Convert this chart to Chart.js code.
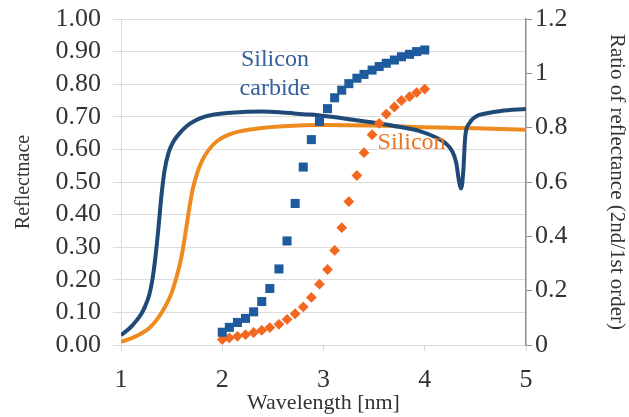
<!DOCTYPE html>
<html>
<head>
<meta charset="utf-8">
<script src="https://cdn.jsdelivr.net/npm/chart.js@4.4.0/dist/chart.umd.min.js"></script>
<style>
  html, body { margin: 0; padding: 0; background: #fff; }
  #wrap { width: 629px; height: 417px; }
</style>
</head>
<body>
<div id="wrap"><canvas id="chart"></canvas></div>
<script>
// Reflectance curves (left axis)
const sicLineX = [1.00, 1.05, 1.10, 1.15, 1.20, 1.24, 1.28, 1.31, 1.34, 1.37, 1.40, 1.43, 1.47, 1.52, 1.58, 1.65, 1.73, 1.82, 1.92, 2.05, 2.20, 2.40, 2.60, 2.80, 2.95, 3.20, 3.45, 3.70, 3.95, 4.10, 4.20, 4.27, 4.31, 4.34, 4.36, 4.38, 4.40, 4.44, 4.50, 4.60, 4.75, 5.00];
const sicLineY = [0.03, 0.042, 0.056, 0.074, 0.095, 0.12, 0.155, 0.20, 0.27, 0.36, 0.46, 0.535, 0.59, 0.625, 0.65, 0.672, 0.688, 0.70, 0.707, 0.712, 0.715, 0.716, 0.713, 0.708, 0.705, 0.695, 0.684, 0.672, 0.656, 0.638, 0.62, 0.595, 0.56, 0.50, 0.48, 0.53, 0.64, 0.68, 0.70, 0.71, 0.718, 0.724];

const siLineX = [1.00, 1.10, 1.20, 1.28, 1.36, 1.44, 1.50, 1.55, 1.59, 1.62, 1.65, 1.68, 1.71, 1.75, 1.80, 1.87, 1.96, 2.08, 2.20, 2.37, 2.60, 3.00, 3.50, 4.00, 4.50, 5.00];
const siLineY = [0.01, 0.02, 0.035, 0.052, 0.08, 0.12, 0.16, 0.21, 0.26, 0.31, 0.37, 0.43, 0.48, 0.525, 0.565, 0.60, 0.628, 0.647, 0.657, 0.665, 0.671, 0.675, 0.673, 0.668, 0.665, 0.66];

// Ratio of reflectance, 2nd/1st order (right axis)
const ratioX = [2.00, 2.07, 2.15, 2.23, 2.31, 2.39, 2.47, 2.56, 2.64, 2.72, 2.80, 2.88, 2.96, 3.04, 3.11, 3.18, 3.25, 3.33, 3.40, 3.48, 3.55, 3.62, 3.70, 3.77, 3.85, 3.92, 4.00];
const sicRatio = [0.047, 0.065, 0.083, 0.098, 0.122, 0.16, 0.208, 0.28, 0.383, 0.521, 0.655, 0.756, 0.823, 0.870, 0.910, 0.938, 0.962, 0.982, 0.996, 1.012, 1.025, 1.037, 1.049, 1.061, 1.070, 1.080, 1.086];
const siRatio = [0.020, 0.026, 0.032, 0.038, 0.046, 0.054, 0.064, 0.076, 0.094, 0.115, 0.140, 0.175, 0.224, 0.278, 0.348, 0.432, 0.528, 0.624, 0.708, 0.774, 0.816, 0.850, 0.876, 0.900, 0.914, 0.929, 0.942];

const rightTickLabels = ["0", "0.2", "0.4", "0.6", "0.8", "1", "1.2"];

const serif = "'Liberation Serif', 'Times New Roman', Times, serif";

function toPoints(xs, ys) {
  return xs.map((x, i) => ({ x: x, y: ys[i] }));
}

// y axes: fixed width, no extra padding from half-height labels
function fitY(width) {
  return (scale) => {
    scale.width = width;
    scale.paddingTop = 0;
    scale.paddingBottom = 0;
  };
}

// Text labels placed in data coordinates
const labelPlugin = {
  id: "seriesLabels",
  afterDatasetsDraw(chart) {
    const { ctx, scales } = chart;
    const x = scales.x, y = scales.yL;
    ctx.save();
    ctx.font = "24px " + serif;
    ctx.textAlign = "center";
    ctx.textBaseline = "middle";
    ctx.fillStyle = "#34609c";
    ctx.fillText("Silicon", x.getPixelForValue(2.52), y.getPixelForValue(0.874));
    ctx.fillText("carbide", x.getPixelForValue(2.52), y.getPixelForValue(0.786));
    ctx.fillStyle = "#ea7424";
    ctx.fillText("Silicon", x.getPixelForValue(3.87), y.getPixelForValue(0.62));
    ctx.restore();
  },
};

const ctx = document.getElementById("chart").getContext("2d");
new Chart(ctx, {
  type: "scatter",
  data: {
    datasets: [
      {
        label: "SiC ratio",
        data: toPoints(ratioX, sicRatio),
        yAxisID: "yR",
        pointStyle: "rect",
        pointRadius: 6.4,
        backgroundColor: "#1d5b9e",
        borderColor: "#1d5b9e",
        borderWidth: 0,
        order: 1,
      },
      {
        label: "Si ratio",
        data: toPoints(ratioX, siRatio),
        yAxisID: "yR",
        pointStyle: "rectRot",
        pointRadius: 5.4,
        backgroundColor: "#f3671f",
        borderColor: "#f3671f",
        borderWidth: 0,
        order: 2,
      },
      {
        label: "Silicon carbide",
        data: toPoints(sicLineX, sicLineY),
        yAxisID: "yL",
        showLine: true,
        pointRadius: 0,
        borderColor: "#1f4a78",
        borderWidth: 4,
        cubicInterpolationMode: "monotone",
        order: 3,
      },
      {
        label: "Silicon",
        data: toPoints(siLineX, siLineY),
        yAxisID: "yL",
        showLine: true,
        pointRadius: 0,
        borderColor: "#ee8a1e",
        borderWidth: 4,
        cubicInterpolationMode: "monotone",
        order: 4,
      },
    ],
  },
  options: {
    responsive: true,
    maintainAspectRatio: false,
    animation: false,
    layout: { padding: { top: 19, left: 0, right: 0, bottom: 0 } },
    plugins: {
      legend: { display: false },
      tooltip: { enabled: false },
    },
    scales: {
      x: {
        type: "linear",
        min: 1,
        max: 5,
        afterFit: (scale) => { scale.height = 72; },
        ticks: {
          stepSize: 1,
          padding: 14,
          color: "#333",
          font: { family: serif, size: 26 },
        },
        grid: {
          drawOnChartArea: false,
          color: "#d9d9d9",
          tickLength: 6,
        },
        border: { color: "#d9d9d9", width: 1 },
        title: {
          display: true,
          text: "Wavelength [nm]",
          color: "#333",
          font: { family: serif, size: 22 },
          padding: { top: 0, bottom: 1 },
        },
      },
      yL: {
        type: "linear",
        position: "left",
        min: 0,
        max: 1,
        afterFit: fitY(121),
        ticks: {
          stepSize: 0.1,
          autoSkip: false,
          padding: 12,
          color: "#333",
          font: { family: serif, size: 26 },
          callback: (v) => v.toFixed(2),
        },
        grid: {
          color: "#dcdcdc",
          tickLength: 8,
        },
        border: { color: "#d9d9d9", width: 1 },
        title: {
          display: true,
          text: "Reflectnace",
          color: "#333",
          font: { family: serif, size: 20 },
          padding: { top: 12, bottom: 0 },
        },
      },
      yR: {
        type: "linear",
        position: "right",
        min: 0,
        max: 1.2,
        afterFit: fitY(103),
        ticks: {
          stepSize: 0.2,
          autoSkip: false,
          padding: 3,
          color: "#333",
          font: { family: serif, size: 26 },
          callback: (v, i) => rightTickLabels[i],
        },
        grid: {
          drawOnChartArea: false,
          color: "#8c8c8c",
          tickLength: 6,
        },
        border: { color: "#8c8c8c", width: 1.5 },
        title: {
          display: true,
          text: "Ratio of reflectance (2nd/1st order)",
          color: "#333",
          font: { family: serif, size: 21 },
          padding: { top: 0, bottom: 0 },
        },
      },
    },
  },
  plugins: [labelPlugin],
});
</script>
</body>
</html>
